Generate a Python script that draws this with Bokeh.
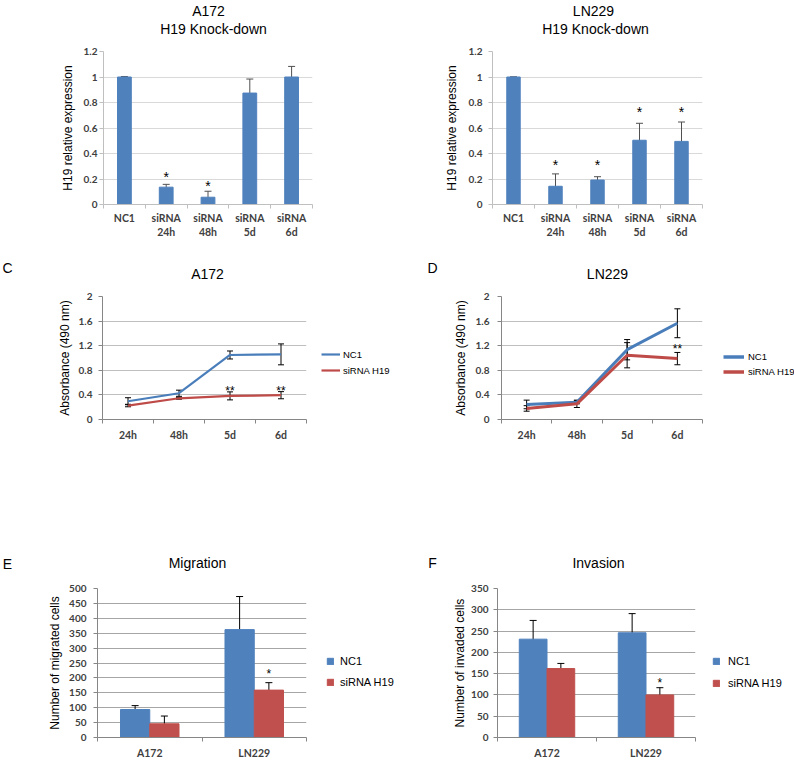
from bokeh.plotting import figure
from bokeh.models import (ColumnDataSource, Whisker, TeeHead, Label, Legend, LegendItem,
                          FixedTicker, CustomJSTickFormatter, Range1d)
from bokeh.layouts import column, row
from bokeh.embed import file_html
from bokeh.resources import INLINE
from bokeh.core.properties import value

SANS = "Liberation Sans"
TICKF = "Lato"
BLUE = "#4f81bd"
RED = "#c0504d"
LBLUE = "#4a7ebb"
LRED = "#be4b48"
NAN = float("nan")

# ---------------- data ----------------
kd_categories = ["NC1", "siRNA\n24h", "siRNA\n48h", "siRNA\n5d", "siRNA\n6d"]
a172_kd = [1.0, 0.136, 0.057, 0.874, 1.0]
a172_kd_err = [0.004, 0.022, 0.047, 0.11, 0.083]
a172_kd_star_idx = [1, 2]
a172_kd_star_y = [0.245, 0.175]

ln229_kd = [1.0, 0.143, 0.192, 0.504, 0.495]
ln229_kd_err = [0.0, 0.097, 0.026, 0.133, 0.152]
ln229_kd_star_idx = [1, 2, 3, 4]
ln229_kd_star_y = [0.338, 0.338, 0.758, 0.758]

time_categories = ["24h", "48h", "5d", "6d"]
a172_nc1 = [0.297, 0.427, 1.049, 1.059]
a172_nc1_err = [0.057, 0.05, 0.065, 0.17]
a172_si = [0.227, 0.345, 0.384, 0.395]
a172_si_err = [0.02, 0.015, 0.065, 0.058]
a172_growth_star_idx = [2, 3]
a172_growth_star_y = [0.53, 0.53]

ln229_nc1 = [0.245, 0.28, 1.135, 1.565]
ln229_nc1_err = [0.07, 0.025, 0.165, 0.235]
ln229_si = [0.18, 0.255, 1.045, 0.99]
ln229_si_err = [0.045, 0.06, 0.205, 0.1]
ln229_growth_star_idx = [3]
ln229_growth_star_y = [1.21]

cell_lines = ["A172", "LN229"]
migr_nc1 = [94, 362]
migr_nc1_err = [13, 111]
migr_si = [46, 159]
migr_si_err = [26, 25]
migr_star_y = [225]

inv_nc1 = [231, 246]
inv_nc1_err = [44, 45]
inv_si = [162, 100]
inv_si_err = [12, 17]
inv_star_y = [138]

series_names = ["NC1", "siRNA H19"]


def blank(w, h, top=0, bottom=0):
    f = figure(width=w, height=h, x_range=Range1d(0, 1), y_range=Range1d(0, 1),
               x_axis_type=None, y_axis_type=None, output_backend="svg",
               toolbar_location=None, min_border=0,
               min_border_top=top, min_border_bottom=bottom)
    f.outline_line_color = None
    f.grid.visible = False
    return f


def header(w, h, labels):
    hf = blank(w, h)
    for (x, y, text, size) in labels:
        hf.add_layout(Label(x=x, y=y, x_units="canvas", y_units="canvas", text=text,
                            text_font=SANS, text_font_size=size, text_align="center",
                            text_baseline="middle", text_color="black"))
    return hf


def legend_fig(w, h, bt, bb, loc, kind, colors, widths, gw, gh, lh, spacing, standoff, size):
    # frame of this figure is aligned with the neighbouring plot's frame (same top/bottom)
    lf = blank(w, h, bt, bb)
    rs = []
    for c, lw in zip(colors, widths):
        if kind == "line":
            rs.append(lf.line(x=[NAN], y=[NAN], line_color=c, line_width=lw))
        else:
            rs.append(lf.vbar(x=[NAN], top=[NAN], width=1, color=c))
    leg = Legend(items=[LegendItem(label=series_names[i], renderers=[r])
                        for i, r in enumerate(rs)],
                 location=loc, orientation="vertical", padding=0, margin=0,
                 spacing=spacing, border_line_color=None, background_fill_alpha=0,
                 glyph_width=gw, glyph_height=gh, label_height=lh, label_width=10,
                 label_standoff=standoff, label_text_font=SANS, label_text_font_size=size,
                 label_text_color="black")
    lf.add_layout(leg)
    return lf


def body(w, h, bl, br, bt, bb, n, ymax, yticks, grid_color, axis_color, cats,
         xlab_standoff, ylab_standoff, ytick_standoff, ylabel, strip=True):
    p = figure(width=w, height=h, x_range=Range1d(-0.5, n - 0.5), y_range=Range1d(0, ymax),
               output_backend="svg", toolbar_location=None,
               min_border_left=bl, min_border_right=br, min_border_top=bt, min_border_bottom=bb)
    p.outline_line_color = None
    p.xgrid.grid_line_color = None
    p.ygrid.grid_line_color = grid_color
    p.ygrid.ticker = FixedTicker(ticks=yticks)
    xa = p.xaxis[0]
    xa.ticker = FixedTicker(ticks=list(range(n)), minor_ticks=[i - 0.5 for i in range(n + 1)])
    xa.formatter = CustomJSTickFormatter(args=dict(labels=cats),
                                         code="const i = Math.round(tick); return labels[i] || '';")
    xa.major_tick_line_color = None
    xa.major_tick_out = 0
    xa.major_tick_in = 0
    xa.minor_tick_line_color = axis_color
    xa.minor_tick_out = 4
    xa.minor_tick_in = 0
    xa.axis_line_color = axis_color
    xa.major_label_text_font = TICKF
    xa.major_label_text_font_size = "10.5px"
    xa.major_label_text_color = "#404040"
    xa.major_label_text_font_style = "bold"
    xa.major_label_standoff = xlab_standoff
    ya = p.yaxis[0]
    ya.ticker = FixedTicker(ticks=yticks)
    if strip:
        ya.formatter = CustomJSTickFormatter(code="return String(Math.round(tick * 10) / 10);")
    ya.major_tick_line_color = axis_color
    ya.major_tick_out = 4
    ya.major_tick_in = 0
    ya.minor_tick_line_color = None
    ya.axis_line_color = axis_color
    ya.major_label_text_font = TICKF
    ya.major_label_text_font_size = "10px"
    ya.major_label_text_color = "#404040"
    ya.major_label_text_font_style = "bold"
    ya.major_label_standoff = ytick_standoff
    ya.axis_label = ylabel
    ya.axis_label_text_font = SANS
    ya.axis_label_text_font_size = "12px"
    ya.axis_label_text_font_style = "normal"
    ya.axis_label_text_color = "black"
    ya.axis_label_standoff = ylab_standoff
    return p


def add_whiskers(p, xs, vals, errs, color, head=7, width=1):
    src = ColumnDataSource(dict(x=xs, upper=[v + e for v, e in zip(vals, errs)],
                                lower=[v - e for v, e in zip(vals, errs)]))
    w = Whisker(base="x", upper="upper", lower="lower", source=src, dimension="height",
                line_color=color, line_width=width,
                upper_head=TeeHead(size=head, line_color=color, line_width=width),
                lower_head=TeeHead(size=head, line_color=color, line_width=width))
    p.add_layout(w)


def add_stars(p, xs, ys, text, size="14px"):
    p.text(x=xs, y=ys, text=[text] * len(xs), text_font=value(SANS),
           text_font_size=size, text_align="center", text_baseline="middle",
           text_color="black", y_offset=4)


# ---------------- panel A ----------------
kd_ticks = [0, 0.2, 0.4, 0.6, 0.8, 1.0, 1.2]
xs5 = list(range(len(kd_categories)))
ha = header(400, 43, [(7, 9, "A", "14px"), (208, 10, "A172", "14px"),
                      (213, 28, "H19 Knock-down", "14px")])
pa = body(400, 202, 103, 88, 8, 41, 5, 1.2, kd_ticks, "#d9d9d9", "#bfbfbf", kd_categories,
          3, 6, 2, "H19 relative expression")
pa.vbar(x=xs5, top=a172_kd, width=0.33, color=BLUE)
add_whiskers(pa, xs5, a172_kd, a172_kd_err, "#505050")
add_stars(pa, a172_kd_star_idx, a172_kd_star_y, "*")

# ---------------- panel B ----------------
hb = header(394, 43, [(32, 9, "B", "14px"), (193, 10, "LN229", "14px"),
                      (195, 28, "H19 Knock-down", "14px")])
pb = body(394, 202, 92, 92, 8, 41, 5, 1.2, kd_ticks, "#d9d9d9", "#bfbfbf", kd_categories,
          3, 7, 6, "H19 relative expression")
pb.vbar(x=xs5, top=ln229_kd, width=0.32, color=BLUE)
add_whiskers(pb, xs5, ln229_kd, ln229_kd_err, "#505050")
add_stars(pb, ln229_kd_star_idx, ln229_kd_star_y, "*")

# ---------------- panel C ----------------
g_ticks = [0, 0.4, 0.8, 1.2, 1.6, 2.0]
xs4 = list(range(len(time_categories)))
hc = header(400, 43, [(7, 22, "C", "14px"), (207, 28, "A172", "14px")])
pc = body(316, 192, 102, 10, 8, 61, 4, 2.0, g_ticks, "#bfbfbf", "#868686", time_categories,
          5, 4, 6, "Absorbance (490 nm)")
pc.line(x=xs4, y=a172_nc1, line_color=LBLUE, line_width=2.2)
pc.line(x=xs4, y=a172_si, line_color=LRED, line_width=2.2)
add_whiskers(pc, xs4, a172_nc1, a172_nc1_err, "black", head=6)
add_whiskers(pc, xs4, a172_si, a172_si_err, "black", head=6)
add_stars(pc, a172_growth_star_idx, a172_growth_star_y, "**", "12px")
lc = legend_fig(84, 192, 8, 61, (5, 41), "line", [LBLUE, LRED], [2.2, 2.2],
                19, 16, 16, 0, 3, "9.5px")

# ---------------- panel D ----------------
hd = header(394, 43, [(32, 22, "D", "14px"), (207, 28, "LN229", "14px")])
pd_ = body(312, 192, 101, 10, 8, 61, 4, 2.0, g_ticks, "#bfbfbf", "#868686", time_categories,
           5, 5, 8, "Absorbance (490 nm)")
pd_.line(x=xs4, y=ln229_nc1, line_color=LBLUE, line_width=3)
pd_.line(x=xs4, y=ln229_si, line_color=LRED, line_width=3)
add_whiskers(pd_, xs4, ln229_nc1, ln229_nc1_err, "black", head=6)
add_whiskers(pd_, xs4, ln229_si, ln229_si_err, "black", head=6)
add_stars(pd_, ln229_growth_star_idx, ln229_growth_star_y, "**", "12px")
ld = legend_fig(82, 192, 8, 61, (11, 40), "line", [LBLUE, LRED], [3.5, 3.5],
                21, 15, 15, 0, 4, "9.5px")

# ---------------- panel E ----------------
xs2 = list(range(len(cell_lines)))
bw = 0.28
x_nc = [x - bw / 2 for x in xs2]
x_si = [x + bw / 2 for x in xs2]
he = header(400, 100, [(7, 83, "E", "14px"), (197, 82, "Migration", "14px")])
pe = body(316, 181, 97, 10, 8, 19, 2, 500, list(range(0, 501, 50)), "#a6a6a6", "#868686",
          cell_lines, 5, 4, 7, "Number of migrated cells", strip=False)
pe.vbar(x=x_nc, top=migr_nc1, width=bw, color=BLUE)
pe.vbar(x=x_si, top=migr_si, width=bw, color=RED)
add_whiskers(pe, x_nc, migr_nc1, migr_nc1_err, "black", head=7)
add_whiskers(pe, x_si, migr_si, migr_si_err, "black", head=7)
add_stars(pe, [x_si[1]], migr_star_y, "*", "12px")
le = legend_fig(84, 181, 8, 19, (10, 48), "bar", [BLUE, RED], [1, 1],
                8, 8, 14, 7, 6, "11px")

# ---------------- panel F ----------------
hf_ = header(394, 100, [(32, 82, "F", "14px"), (198, 82, "Invasion", "14px")])
pf = body(305, 181, 97, 10, 8, 19, 2, 350, list(range(0, 351, 50)), "#a6a6a6", "#868686",
          cell_lines, 5, 1, 5, "Number of invaded cells", strip=False)
pf.vbar(x=x_nc, top=inv_nc1, width=bw, color=BLUE)
pf.vbar(x=x_si, top=inv_si, width=bw, color=RED)
add_whiskers(pf, x_nc, inv_nc1, inv_nc1_err, "black", head=7)
add_whiskers(pf, x_si, inv_si, inv_si_err, "black", head=7)
add_stars(pf, [x_si[1]], inv_star_y, "*", "12px")
lf_ = legend_fig(89, 181, 8, 19, (7, 47), "bar", [BLUE, RED], [1, 1],
                 8, 8, 14, 8, 8, "11px")

layout = column(row(column(ha, pa), column(hb, pb)),
                row(column(hc, row(pc, lc)), column(hd, row(pd_, ld))),
                row(column(he, row(pe, le)), column(hf_, row(pf, lf_))))
open("out.html", "w").write(file_html(layout, INLINE))
